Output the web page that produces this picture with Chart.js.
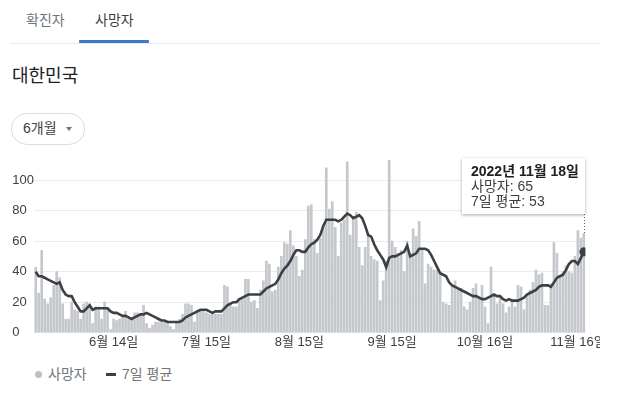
<!DOCTYPE html>
<html>
<head>
<meta charset="utf-8">
<script src="https://cdn.jsdelivr.net/npm/chart.js@4.4.0/dist/chart.umd.min.js"></script>
<style>
  body { margin: 0; background: #fff; font-family: Arial, "Liberation Sans", "Noto Sans CJK KR", sans-serif; }
  .page { position: relative; width: 625px; height: 397px; overflow: hidden; }
  .tab { position: absolute; top: 11px; font-size: 14px; line-height: 18px; }
  .tab.off { left: 26px; color: #70757a; }
  .tab.on { left: 95px; color: #3c4043; }
  .tab-bar { position: absolute; left: 79px; top: 40px; width: 70px; height: 3px; background: #3c78c8; border-radius: 1px; }
  .sep { position: absolute; left: 10px; top: 43px; width: 590px; height: 1px; background: #e8eaed; }
  .title { position: absolute; left: 12px; top: 64px; font-size: 18px; line-height: 24px; color: #202124; }
  .pill { position: absolute; left: 11px; top: 113px; width: 72px; height: 30px; border: 1px solid #dadce0; border-radius: 16px; font-size: 14px; color: #3c4043; }
  .pill span { position: absolute; left: 11px; top: 6px; line-height: 17px; }
  .pill i { position: absolute; left: 54px; top: 13px; width: 0; height: 0; border-left: 3px solid transparent; border-right: 3px solid transparent; border-top: 4px solid #70757a; }
  .chart-box { position: absolute; left: 0; top: 140px; width: 600px; height: 220px; }
  .tip { position: absolute; left: 462px; top: 158px; width: 123px; height: 56px; background: #fff; box-shadow: 0 1px 3px rgba(0,0,0,0.35); font-size: 14px; line-height: 15px; color: #3c4043; }
  .tip div { position: absolute; left: 9px; white-space: nowrap; }
  .tip b { color: #202124; }
  .legend { position: absolute; top: 366px; font-size: 14px; line-height: 16px; color: #70757a; }
  .dot { position: absolute; left: 35px; top: 371px; width: 7px; height: 7px; border-radius: 50%; background: #bdc1c6; }
  .dash { position: absolute; left: 106px; top: 373px; width: 10px; height: 3px; background: #3c4043; }
</style>
</head>
<body>
<div class="page">
  <div class="tab off">확진자</div>
  <div class="tab on">사망자</div>
  <div class="sep"></div>
  <div class="tab-bar"></div>
  <div class="title">대한민국</div>
  <div class="pill"><span>6개월</span><i></i></div>
  <div class="chart-box"><canvas id="c"></canvas></div>
  <div class="tip" id="tip"></div>
  <div class="dot"></div><div class="legend" style="left:48px">사망자</div>
  <div class="dash"></div><div class="legend" style="left:122px">7일 평균</div>
</div>
<script>
// 2022-05-19 .. 2022-11-18, daily
const startDate = [2022, 5, 19];
const deaths = [
  43, 26, 54, 22, 19, 23, 31, 40, 36, 19,
  9, 9, 20, 15, 14, 9, 19, 20, 19, 6,
  17, 17, 9, 20, 16, 2, 9, 8, 9, 10,
  14, 9, 10, 13, 13, 12, 18, 6, 3, 5,
  7, 7, 7, 7, 6, 4, 2, 7, 9, 12,
  19, 19, 18, 7, 15, 15, 15, 13, 12, 13,
  12, 12, 12, 31, 30, 19, 17, 17, 22, 22,
  35, 35, 20, 21, 16, 28, 34, 47, 45, 27,
  28, 43, 50, 59, 58, 67, 57, 50, 37, 41,
  61, 83, 84, 61, 52, 62, 70, 108, 81, 86,
  69, 50, 72, 74, 112, 64, 76, 79, 56, 44,
  56, 65, 50, 48, 47, 21, 34, 47, 113, 60,
  56, 52, 54, 40, 60, 50, 68, 63, 73, 54,
  32, 45, 43, 41, 41, 39, 20, 19, 18, 30,
  34, 29, 29, 17, 15, 20, 29, 32, 24, 31,
  17, 6, 43, 24, 19, 24, 19, 13, 17, 22,
  17, 31, 30, 15, 25, 28, 33, 41, 38, 39,
  18, 18, 32, 59, 52, 37, 40, 44, 40, 39,
  50, 67, 62, 65
];
const avg7 = [
  40, 37, 37, 36, 35, 34, 33, 32, 33, 28,
  25, 24, 24, 20, 17, 14, 14, 16, 18, 15,
  16, 16, 16, 16, 16, 14, 13, 13, 12, 11,
  11, 10, 9, 10, 11, 12, 12, 13, 12, 11,
  10, 9, 8, 8, 7, 7, 7, 7, 7, 8,
  10, 11, 12, 13, 14, 15, 15, 15, 14, 13,
  14, 14, 14, 16, 18, 19, 20, 20, 22, 23,
  24, 25, 25, 25, 25, 25, 27, 29, 30, 31,
  32, 35, 39, 42, 44, 47, 51, 54, 54, 53,
  53, 56, 58, 59, 61, 64, 70, 74, 74, 74,
  74, 73, 74, 76, 78, 77, 75, 76, 77, 75,
  70, 64, 63, 58, 54, 51, 48, 43, 49, 50,
  50, 51, 52, 53, 57, 50, 51, 52, 55, 55,
  55, 54, 51, 47, 43, 39, 38, 37, 33, 31,
  30, 29, 28, 27, 26, 25, 24, 24, 23, 22,
  22, 23, 24, 25, 24, 24, 22, 21, 22, 21,
  21, 21, 22, 23, 25, 26, 27, 28, 30, 31,
  31, 31, 30, 33, 36, 37, 38, 41, 45, 47,
  47, 45, 49, 53
];
const xTickIdx = [26, 57, 88, 119, 150, 181];
const xTickLabels = ['6월 14일', '7월 15일', '8월 15일', '9월 15일', '10월 16일', '11월 16일'];
const yTicks = [0, 20, 40, 60, 80, 100];

const last = deaths.length - 1;
const font = 'Arial, "Liberation Sans", "Noto Sans CJK KR", sans-serif';

function dateOf(i) {
  const d = new Date(startDate[0], startDate[1] - 1, startDate[2] + i);
  return d.getFullYear() + '년 ' + (d.getMonth() + 1) + '월 ' + d.getDate() + '일';
}

document.getElementById('tip').innerHTML =
  `<div style="top:6px"><b>${dateOf(last)}</b></div>` +
  `<div style="top:21px">사망자: ${deaths[last]}</div>` +
  `<div style="top:36px">7일 평균: ${avg7[last]}</div>`;

// dotted hover line under the tooltip
const hoverLine = {
  id: 'hoverLine',
  beforeDatasetsDraw(chart) {
    const x = Math.round(chart.scales.x.getPixelForValue(last)) + 0.5;
    const ctx = chart.ctx;
    ctx.save();
    ctx.strokeStyle = '#5f6368';
    ctx.lineWidth = 1;
    ctx.setLineDash([1, 2]);
    ctx.beginPath();
    ctx.moveTo(x, 214 - 140);
    ctx.lineTo(x, chart.chartArea.bottom);
    ctx.stroke();
    ctx.restore();
  }
};

new Chart(document.getElementById('c'), {
  data: {
    datasets: [
      {
        type: 'line', label: '7일 평균', order: 0,
        data: avg7.map((v, i) => ({ x: i, y: v })),
        borderColor: '#3c4043', borderWidth: 2.6, tension: 0,
        pointRadius: ctx => ctx.dataIndex === last ? 4.5 : 0,
        pointBackgroundColor: '#3c4043', pointBorderWidth: 0
      },
      {
        type: 'bar', label: '사망자', order: 1,
        data: deaths.map((v, i) => ({ x: i, y: v })),
        backgroundColor: '#c4c7cb', barThickness: 2
      }
    ]
  },
  plugins: [hoverLine],
  options: {
    responsive: true, maintainAspectRatio: false, animation: false,
    layout: { padding: { left: 12.2, right: 14.6, top: 9.6, bottom: 7.3 } },
    plugins: { legend: { display: false }, tooltip: { enabled: false } },
    scales: {
      x: {
        type: 'linear', min: -0.5, max: 183.5, offset: false,
        grid: { display: false, drawTicks: false, offset: false },
        border: { display: false },
        afterBuildTicks: s => { s.ticks = xTickIdx.map(v => ({ value: v })); },
        afterFit: s => { s.height = 20; s.paddingLeft = 0; s.paddingRight = 0; },
        ticks: {
          autoSkip: false, maxRotation: 0, padding: 1.5,
          color: '#3c4043', font: { family: font, size: 13 },
          callback: (v, i) => xTickLabels[i]
        }
      },
      y: {
        min: 0, max: 120,
        grid: { color: '#ebebeb', drawTicks: false },
        border: { display: false },
        afterBuildTicks: s => { s.ticks = yTicks.map(v => ({ value: v })); },
        afterFit: s => { s.width = 22; s.paddingTop = 0; s.paddingBottom = 0; },
        ticks: {
          crossAlign: 'far', padding: 0,
          color: '#3c4043', font: { family: font, size: 13 }
        }
      }
    }
  }
});
</script>
</body>
</html>
